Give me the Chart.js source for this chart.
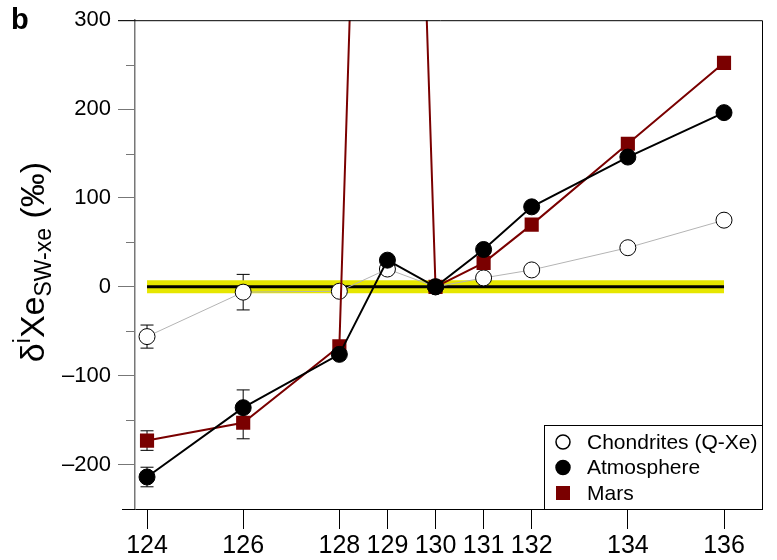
<!DOCTYPE html>
<html>
<head>
<meta charset="utf-8">
<script src="https://cdn.jsdelivr.net/npm/chart.js@4/dist/chart.umd.min.js"></script>
<style>
  html, body { margin: 0; padding: 0; background: #fff; }
  #wrap { width: 777px; height: 560px; }
</style>
</head>
<body>
<div id="wrap"><canvas id="myChart"></canvas></div>
<script>
// Data
  const masses = [124, 126, 128, 129, 130, 131, 132, 134, 136];
  const chondrites = [-56, -6, -5, 20, 0, 10, 19, 44, 75];
  const chondritesErr = [13, 20, 0, 0, 0, 0, 0, 0, 0];
  const atmosphere = [-214, -136, -76, 30, 0, 42, 90, 146, 196];
  const atmosphereErr = [11, 20, 0, 0, 0, 0, 0, 0, 0];
  const mars = [-173, -153, -67, 1650, 0, 27, 70, 161, 252];
  const marsErr = [11, 18, 0, 0, 0, 0, 0, 0, 0];
  const xTicks = [124, 126, 128, 129, 130, 131, 132, 134, 136];
  const yTicks = [-200, -100, 0, 100, 200, 300];
  const yMinorTicks = [-150, -50, 50, 150, 250];
  const zeroLine = [124, 136];

  const MARS_RED = '#7a0000';
  const pts = (arr) => masses.map((m, i) => ({ x: m, y: arr[i] }));

  const data = {
    datasets: [
      {
        label: 'Atmosphere',
        data: pts(atmosphere),
        err: atmosphereErr,
        borderColor: '#000',
        backgroundColor: '#000',
        borderWidth: 2,
        pointRadius: 8,
        pointBorderWidth: 1,
        pointStyle: 'circle',
        order: 0
      },
      {
        label: 'Mars',
        data: pts(mars),
        err: marsErr,
        borderColor: MARS_RED,
        backgroundColor: MARS_RED,
        borderWidth: 2,
        pointRadius: 10,
        pointBorderWidth: 0,
        pointStyle: 'rect',
        order: 1
      },
      {
        label: 'Chondrites (Q-Xe)',
        data: pts(chondrites),
        err: chondritesErr,
        borderColor: '#b4b4b4',
        backgroundColor: '#fff',
        pointBorderColor: '#000',
        borderWidth: 1,
        pointRadius: 8,
        pointBorderWidth: 1,
        pointStyle: 'circle',
        order: 2
      },
      {
        label: 'zero',
        data: zeroLine.map(x => ({ x: x, y: 0 })),
        borderColor: '#000',
        borderWidth: 3,
        pointRadius: 0,
        order: 3
      },
      {
        label: 'band',
        data: zeroLine.map(x => ({ x: x, y: 0 })),
        borderColor: '#e6e600',
        borderWidth: 13,
        pointRadius: 0,
        order: 4
      }
    ]
  };

// error bars, drawn under the markers
  const errorBars = {
    id: 'errorBars',
    beforeDatasetsDraw(chart) {
      const { ctx, scales: { x, y } } = chart;
      ctx.save();
      ctx.strokeStyle = '#000';
      ctx.lineWidth = 1;
      chart.data.datasets.forEach(ds => {
        if (!ds.err) return;
        ds.data.forEach((p, i) => {
          const e = ds.err[i];
          if (!e) return;
          const px = x.getPixelForValue(p.x);
          const top = y.getPixelForValue(p.y + e);
          const bot = y.getPixelForValue(p.y - e);
          ctx.beginPath();
          ctx.moveTo(px, top); ctx.lineTo(px, bot);
          ctx.moveTo(px - 6.5, top); ctx.lineTo(px + 6.5, top);
          ctx.moveTo(px - 6.5, bot); ctx.lineTo(px + 6.5, bot);
          ctx.stroke();
        });
      });
      ctx.restore();
    }
  };

// frame, minor ticks, legend, titles
  const decorations = {
    id: 'decorations',
    afterDraw(chart) {
      const { ctx, chartArea: a, scales: { y } } = chart;
      ctx.save();
      // minor ticks
      ctx.strokeStyle = '#777';
      ctx.lineWidth = 1;
      yMinorTicks.forEach(v => {
        const py = Math.round(y.getPixelForValue(v)) + 0.5;
        ctx.beginPath();
        ctx.moveTo(a.left - 9, py); ctx.lineTo(a.left, py);
        ctx.stroke();
      });
      // frame
      ctx.strokeStyle = '#000';
      ctx.beginPath();
      ctx.moveTo(a.left - 17, a.top + 0.5); ctx.lineTo(a.right + 0.5, a.top + 0.5);
      ctx.lineTo(a.right + 0.5, a.bottom);
      ctx.moveTo(a.left - 13, a.bottom + 0.5); ctx.lineTo(a.left, a.bottom + 0.5);
      ctx.stroke();

      // legend
      const lx = 544, ly = 425;
      ctx.fillStyle = '#fff';
      ctx.fillRect(lx, ly, a.right - lx, a.bottom - ly);
      ctx.strokeRect(lx + 0.5, ly + 0.5, a.right - lx, a.bottom - ly);
      const entries = ['Chondrites (Q-Xe)', 'Atmosphere', 'Mars'];
      ctx.font = '21px "Liberation Sans", Arial, sans-serif';
      ctx.textBaseline = 'middle';
      entries.forEach((name, i) => {
        const ds = chart.data.datasets.find(d => d.label === name);
        const cy = 442 + i * 25.5, cx = 563;
        ctx.lineWidth = 1.5;
        if (ds.pointStyle === 'rect') {
          ctx.fillStyle = ds.backgroundColor;
          ctx.fillRect(cx - 7, cy - 7, 14, 14);
        } else {
          ctx.beginPath();
          ctx.arc(cx, cy, 7, 0, Math.PI * 2);
          ctx.fillStyle = ds.backgroundColor;
          ctx.fill();
          ctx.strokeStyle = '#000';
          ctx.stroke();
        }
        ctx.fillStyle = '#000';
        ctx.fillText(name, 587, cy + 1);
      });

      // panel letter
      ctx.font = 'bold 29px "Liberation Sans", Arial, sans-serif';
      ctx.textBaseline = 'alphabetic';
      ctx.fillText('b', 11, 29);

      // y axis title with super/subscript
      const big = '34px "Liberation Sans", Arial, sans-serif';
      const small = '23px "Liberation Sans", Arial, sans-serif';
      const parts = [
        { t: '\u03b4', f: big, dy: 0 },
        { t: 'i', f: small, dy: -14 },
        { t: 'Xe', f: big, dy: 0 },
        { t: 'SW-xe', f: small, dy: 7 },
        { t: ' (\u2030)', f: big, dy: 0 }
      ];
      let total = 0;
      parts.forEach(p => { ctx.font = p.f; p.w = ctx.measureText(p.t).width; total += p.w; });
      ctx.translate(44, 262);
      ctx.rotate(-Math.PI / 2);
      let cx = -total / 2;
      parts.forEach(p => {
        ctx.font = p.f;
        ctx.fillText(p.t, cx, p.dy);
        cx += p.w;
      });
      ctx.restore();
    }
  };

  const config = {
    type: 'line',
    data: data,
    options: {
      responsive: true,
      maintainAspectRatio: false,
      animation: false,
      layout: { padding: { top: 16, right: 15, left: 0, bottom: 0 } },
      plugins: {
        legend: { display: false },
        tooltip: { enabled: false }
      },
      scales: {
        x: {
          type: 'linear',
          min: 123.75,
          max: 136.79,
          afterBuildTicks: s => { s.ticks = xTicks.map(v => ({ value: v })); },
          afterFit: s => { s.height = 51; },
          ticks: {
            autoSkip: false,
            maxRotation: 0,
            padding: 2,
            color: '#000',
            font: { family: '"Liberation Sans Narrow", "Liberation Sans", Arial, sans-serif', size: 25 }
          },
          grid: { drawOnChartArea: false, tickLength: 20, color: '#000', tickWidth: 1 },
          border: { color: '#000', width: 1 }
        },
        y: {
          min: -250,
          max: 300,
          afterBuildTicks: s => { s.ticks = yTicks.map(v => ({ value: v })); },
          afterFit: s => { s.width = 135; },
          ticks: {
            padding: 7,
            color: '#000',
            font: { family: '"Liberation Sans", Arial, sans-serif', size: 22 },
            callback: v => v < 0 ? '\u2013' + Math.abs(v) : String(v)
          },
          grid: { drawOnChartArea: false, tickLength: 17, color: '#777', tickWidth: 1 },
          border: { color: '#777', width: 1.5 }
        }
      }
    },
    plugins: [errorBars, decorations]
  };

  const myChart = new Chart(document.getElementById('myChart'), config);
</script>
</body>
</html>
